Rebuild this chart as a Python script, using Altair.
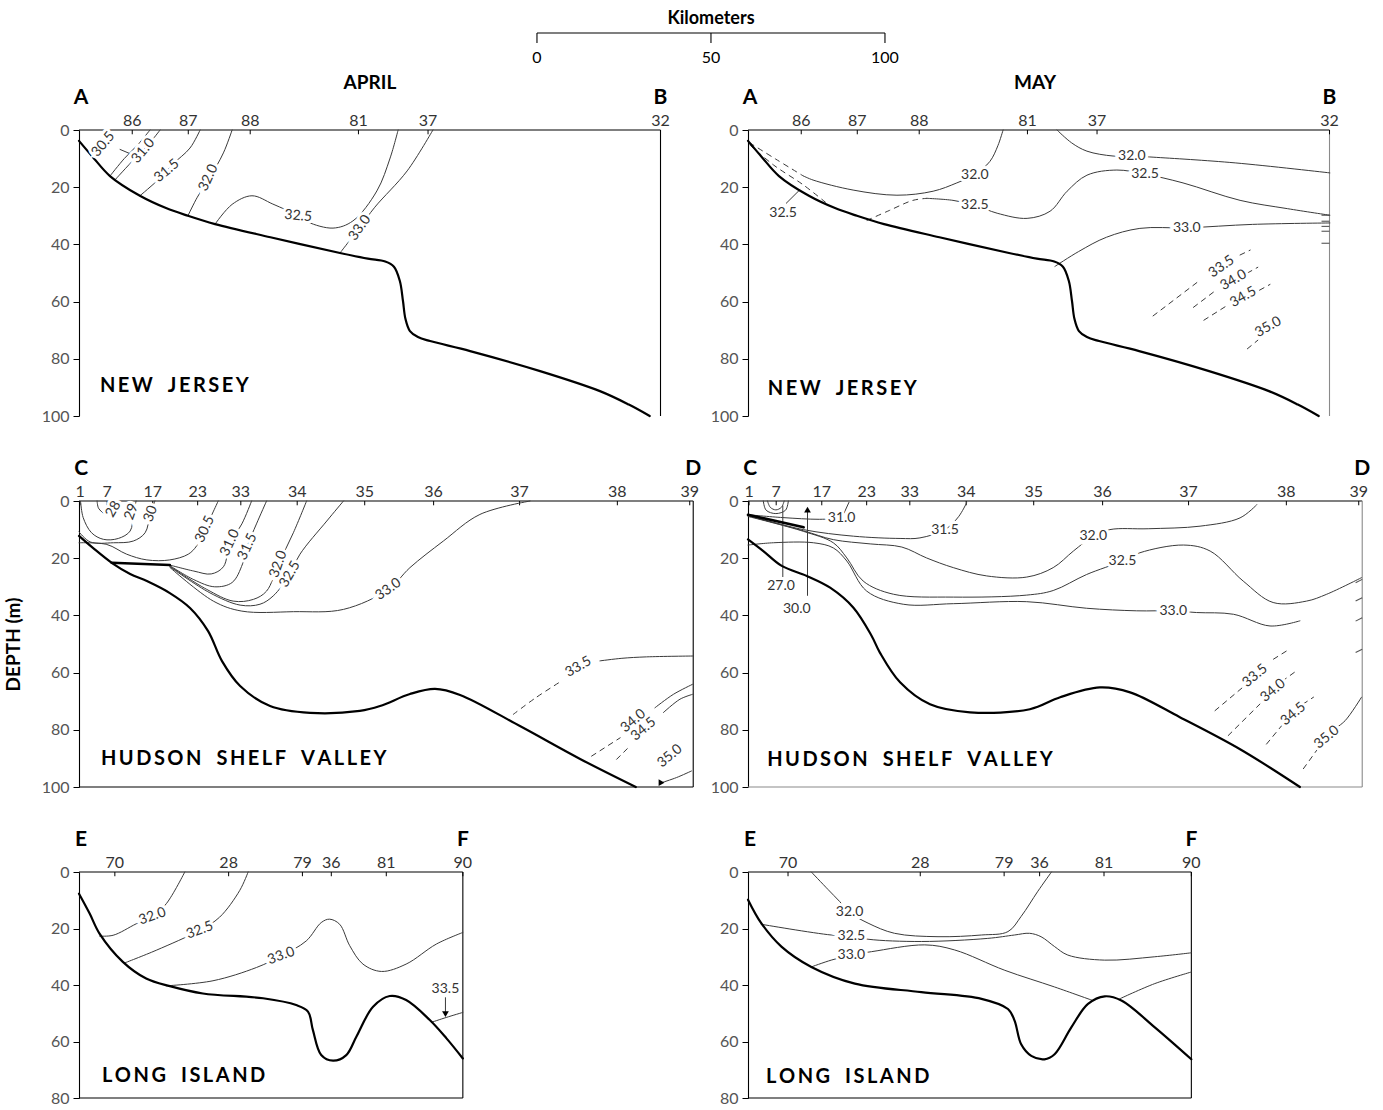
import altair as alt
import pandas as pd

FONT = "Lato"
BOLD = "Lato"
INK = "#3a3a3a"

# ---------------- stations (distance along section, km) ----------------
NJ_ST = ["86", "87", "88", "81", "37", "32"]
NJ_ST_KM = [15.3, 31.4, 49.2, 80.3, 100.3, 167.1]
HSV_ST = ["1", "7", "17", "23", "33", "34", "35", "36", "37", "38", "39"]
HSV_ST_KM = [0.3, 8.1, 21.2, 34.1, 46.5, 62.7, 82.1, 101.9, 126.6, 154.7, 175.5]
LI_ST = ["70", "28", "79", "36", "81", "90"]
LI_APR_ST_KM = [10.3, 43.0, 64.2, 72.5, 88.3, 110.3]
LI_MAY_ST_KM = [11.5, 49.5, 73.6, 83.8, 102.3, 127.4]

NJ_END = 167.1
HSV_END = 176.5
LI_APR_END = 110.3
LI_MAY_END = 127.4
KM_TICKS = [0, 50, 100]

# ---------------- bottom profiles (km, depth m) ----------------
NJ_BOTTOM = [(0, 3.8), (4, 9.5), (8.9, 16.1), (17.5, 23.0), (25, 27.3), (31.3, 30.0), (39.1, 32.9),
             (55, 37.5), (75, 43.0), (83, 45.0), (88, 46.0), (90.5, 47.8), (92.2, 52.8), (93.1, 59.8),
             (93.8, 66.0), (95.1, 70.3), (97.4, 72.4), (100.9, 73.8), (112.4, 77.3), (132.5, 84.3),
             (149.7, 91.3), (158, 96.0), (164, 100.0)]
HSV_APR_BOTTOM = [(0, 12.2), (4, 16.4), (9.5, 21.7), (14.7, 25.5), (19.5, 28), (26.1, 32.2), (31.9, 37.4),
                  (37.1, 45.5), (41.1, 56), (46.3, 64.7), (54.9, 71.7), (66.4, 74.1), (80.7, 73.4),
                  (86.5, 71.7), (95.1, 67.5), (102.3, 65.7), (109.5, 67.8), (126.7, 78.7), (144, 90.2),
                  (160, 100)]
HSV_MAY_BOTTOM = [(0, 13.4), (4.4, 17.5), (9.7, 22.7), (16.9, 26.2), (23.6, 30.3), (30.3, 37.3),
                  (35.5, 47.1), (37.9, 53), (43.7, 63.4), (52.3, 71.1), (63.8, 73.9), (81, 72.8),
                  (89.7, 68.6), (101.1, 65.2), (109.8, 66.9), (124.1, 75.6), (141.4, 86.8), (158.6, 100)]
LI_APR_BOTTOM = [(0, 7.7), (3.1, 14.8), (5.9, 21.8), (12.6, 31.8), (19.3, 37.7), (26.1, 40.4), (35.6, 43),
                 (52.9, 44.7), (62.4, 47.1), (65.8, 49.4), (67.2, 55.9), (69.6, 64.8), (73, 66.8),
                 (76.8, 64.8), (79.7, 58.3), (84.5, 47.7), (89.3, 43.9), (94, 45.3), (100.8, 52.4),
                 (105.6, 58.9), (110.3, 66)]
LI_MAY_BOTTOM = [(0, 9.8), (3.8, 18.1), (9.6, 26.4), (18.2, 33.6), (30.7, 39.5), (49.8, 42.5), (67.1, 44.9),
                 (74.7, 48.5), (76.6, 52.6), (78.5, 61), (81.4, 65.1), (85.2, 66.3), (88.1, 64.5),
                 (92.9, 55), (97.7, 46.7), (102.5, 44), (107.3, 45.5), (116.9, 55), (127.4, 66.3)]

# ---------------- salinity isolines: April, New Jersey ----------------
APR_NJ_305 = [(20.4, 0), (17, 5), (13, 10), (8.9, 16.1)]
APR_NJ_310 = [(23.3, 0), (20, 5), (16, 10), (10.3, 17.5)]
APR_NJ_315 = [(34.8, 0), (31.9, 6.3), (27, 11.9), (23.3, 16.8), (17.5, 23.0)]
APR_NJ_320 = [(44, 0), (41.5, 8), (37.5, 16.8), (34, 23.5), (31.3, 30.0)]
APR_NJ_325 = [(39.1, 32.9), (44, 26), (49.7, 23), (55.7, 25.9), (63, 30), (65.8, 32.2), (73, 34.3),
              (78.7, 31.8), (85.6, 21.3), (89.4, 9.8), (91.7, 0)]
APR_NJ_330 = [(75, 43), (80.7, 34), (85, 27), (94.3, 14.3), (101.7, 0)]
APR_NJ_PTR = [(11.8, 6.8), (15.1, 8.5)]
APR_NJ_LABELS = [("30.5", 7.0, 5.0, 310), ("31.0", 18.5, 7.3, 310), ("31.5", 25.2, 14.3, 320),
                 ("32.0", 37.2, 16.7, 295), ("32.5", 63.0, 30.1, 5), ("33.0", 80.7, 34.2, 305)]

# ---------------- May, New Jersey ----------------
MAY_NJ_320A = [(0.5, 4.5), (8, 10.2), (15.8, 16)]
MAY_NJ_BOTD = [(0.5, 5.2), (7.3, 12.2), (15.9, 19.2), (22.6, 25.6)]
MAY_NJ_320 = [(15.8, 16), (18.7, 17.5), (30.2, 21), (42.8, 22.8), (53.2, 21.4), (60, 18.5), (65.2, 15.5),
              (69.5, 11), (71.8, 5.5), (73.3, 0)]
MAY_NJ_325A = [(34.2, 31.6), (40.5, 28.2), (47.4, 24.6), (51.4, 23.9)]
MAY_NJ_325 = [(51.4, 23.9), (58.9, 24.6), (65.2, 26.3), (71.6, 29.1), (80.2, 30.9), (86.8, 28.4),
              (91.7, 21.4), (97.4, 15.8), (106, 14), (114, 15.4), (125, 18.5), (141.4, 24.6), (155, 27.5),
              (167.2, 29.8)]
MAY_NJ_320B = [(88.8, 0), (93, 4.5), (97.4, 7.4), (104.9, 9.1), (110.3, 9.1), (116.4, 9.5), (140, 11.5),
               (167.2, 15)]
MAY_NJ_330 = [(88.2, 47.7), (95, 42.5), (103, 37.5), (112.6, 34.4), (126.1, 34.2), (145, 33), (167.2, 32.5)]
MAY_NJ_PTR = [(11, 25.6), (14.9, 20.9)]
MAY_NJ_335 = [[(116.4, 65), (129.9, 52.5)], [(141.4, 43.7), (144.3, 42)]]
MAY_NJ_340 = [[(128, 62), (134.5, 56)], [(143.5, 50), (146.5, 48)]]
MAY_NJ_345 = [[(131, 66.5), (137.5, 61.5)], [(147, 56), (150, 54)]]
MAY_NJ_350 = [[(143.5, 76.5), (146.5, 73.5)]]
MAY_NJ_HATCH = [29.8, 31.9, 33.7, 35.4, 39.6]
MAY_NJ_LABELS = [("32.0", 65.2, 15.8, 0), ("32.5", 10.1, 29.1, 0), ("32.5", 65.2, 26.3, 0),
                 ("32.0", 110.3, 9.1, 0), ("32.5", 114.1, 15.4, 0), ("33.0", 126.1, 34.2, 0),
                 ("33.5", 136.1, 47.8, 325), ("34.0", 139.5, 52.5, 330), ("34.5", 142.3, 58.4, 330),
                 ("35.0", 149.5, 68.9, 330)]

# ---------------- April, Hudson Shelf Valley ----------------
APR_HSV_28 = [(5.2, 0), (5.6, 2.5), (7.2, 4.5)]
APR_HSV_29 = [(0.5, 0.6), (1.2, 5.8), (3.6, 11.1), (7, 13.4), (11.3, 13.1), (14.7, 10.5), (15.6, 5), (16.4, 0)]
APR_HSV_30 = [(0, 10.8), (3.2, 14.3), (9.9, 14.6), (15.6, 14), (19, 11.1), (20.4, 5), (21.8, 0)]
APR_HSV_305 = [(0, 14.6), (8, 15.2), (13.7, 18.6), (19.5, 20.6), (26.1, 20.6), (31.4, 18.6), (33.8, 15.7),
               (36.2, 9.9), (40, 0)]
APR_HSV_SHELF = [(9.4, 21.6), (26.1, 22.4)]
APR_HSV_310 = [(26.1, 22.4), (33, 24.5), (38, 25.5), (41.5, 23), (43.4, 14.6), (46.8, 8), (49.6, 0)]
APR_HSV_315 = [(26.1, 22.6), (33, 27.5), (39, 30), (44, 28.5), (47, 22), (48.4, 15.7), (51, 8), (53.9, 0)]
APR_HSV_320 = [(26.1, 22.8), (36.7, 30.9), (44.3, 35), (50.1, 34.4), (53.9, 31.5), (57.3, 22.1), (61.6, 11.1),
               (65.4, 0)]
APR_HSV_325 = [(26.1, 23), (37.6, 32.1), (46.3, 36.4), (52, 36.1), (55.8, 33.2), (60.6, 25.6), (63.5, 18.6),
               (71.2, 7), (76, 0)]
APR_HSV_330 = [(26.1, 23.2), (38.6, 35), (46.8, 38.5), (61.6, 38.7), (76, 37.9), (88.9, 30.9), (95.1, 23.3),
               (104.7, 14), (115.2, 4.7), (129.6, 0)]
APR_HSV_335D = [(124.8, 74.6), (131, 69), (138.7, 62.9)]
APR_HSV_335 = [(149.7, 55.9), (156, 55), (163.1, 54.5), (176.5, 54.2)]
APR_HSV_340D = [(147.3, 89.2), (155.5, 82.8)]
APR_HSV_340 = [(165.5, 72.3), (170.8, 67.6), (176.3, 64.1)]
APR_HSV_345D = [(154.5, 90.3), (157.8, 86.3)]
APR_HSV_345 = [(167.9, 74), (172.7, 69.3), (176.3, 67.6)]
APR_HSV_350 = [(167.4, 98.5), (171.7, 96.7), (176, 94.4)]
APR_HSV_LABELS = [("28", 9.9, 2.9, 300), ("29", 15.1, 3.8, 290), ("30", 20.6, 4.5, 290),
                  ("30.5", 36.2, 9.9, 295), ("31.0", 43.4, 14.6, 295), ("31.5", 48.4, 16.0, 295),
                  ("32.0", 57.3, 22.1, 290), ("32.5", 60.6, 25.6, 300), ("33.0", 88.9, 30.9, 325),
                  ("33.5", 143.5, 58.0, 330), ("34.0", 159.3, 76.9, 320), ("34.5", 162.2, 79.8, 320),
                  ("35.0", 169.8, 89.2, 320)]

# ---------------- May, Hudson Shelf Valley ----------------
MAY_HSV_WEDGE = [(0, 4.8), (16, 9.2)]
MAY_HSV_ARC1 = [(5.6, 0), (6.4, 2.2), (8, 3.1), (9.6, 2.2), (10.4, 0)]
MAY_HSV_ARC2 = [(4.4, 0), (5.2, 3.2), (8, 4.4), (10.8, 3.2), (11.6, 0)]
MAY_HSV_310 = [(0, 4.8), (10, 5.8), (20.5, 6.4), (26.9, 6.0)]
MAY_HSV_310B = [(27.6, 4.2), (29, 0.5)]
MAY_HSV_315 = [(0, 5), (15.9, 10), (30.3, 12.3), (43.7, 13.1), (49.4, 12.9), (56.6, 10), (60.5, 5.5),
               (62.8, 0.7)]
MAY_HSV_320 = [(0, 5.2), (15.9, 10.4), (24.5, 13.5), (35.1, 15), (44.2, 16.1), (51.3, 19.9), (59, 23.3),
               (68.6, 26.2), (80.1, 26.6), (87.7, 23.3), (93.5, 17.5), (99.2, 12.3), (104, 10), (115, 9.7),
               (129.9, 8.8), (141.4, 5.9), (146.2, 1.3)]
MAY_HSV_325 = [(0, 5.4), (15.9, 10.6), (24.5, 14.6), (28.4, 19.9), (33.1, 28), (41.8, 32.6), (59, 33.6),
               (80.1, 32.9), (87.7, 31.3), (97.3, 25.7), (107.6, 21), (112.6, 18.1), (125.1, 15.4),
               (132.8, 17.5), (142.3, 28), (150.9, 35.5), (160.5, 35), (166.3, 32.6), (176.3, 26.8)]
MAY_HSV_330 = [(0, 15.4), (7.3, 14.6), (18.8, 14.6), (24.5, 16.4), (28.4, 21), (34.1, 31.5), (44.6, 36.1),
               (59, 35.9), (80.1, 35.2), (97.3, 37.5), (111.7, 38.4), (122.2, 38.4), (128.9, 39),
               (139.5, 39.6), (150, 43.7), (158.6, 41.9)]
MAY_HSV_A27 = [(10, 26.7), (10, 1.7)]
MAY_HSV_A30 = [(17.1, 33.0), (17.1, 2.6)]
MAY_HSV_335 = [[(134.2, 73.3), (143.3, 64)], [(151, 55.3), (154.8, 52.4)]]
MAY_HSV_340 = [[(138, 82), (147.1, 71)], [(153.5, 63), (157.7, 59.3)]]
MAY_HSV_345 = [[(149, 85), (153.8, 77.9)], [(159.5, 71), (162.5, 68.6)]]
MAY_HSV_350D = [[(159.6, 93.6), (163.4, 87.2)]]
MAY_HSV_350 = [(168.8, 79.5), (171.6, 76.8), (176.3, 68.6)]
MAY_HSV_HATCH = [27.4, 33.8, 40.8, 51.8]
MAY_HSV_LABELS = [("31.0", 26.9, 5.9, 0), ("31.5", 56.6, 10.0, 0), ("32.0", 99.2, 12.3, 0),
                  ("32.5", 107.6, 21.0, 0), ("33.0", 122.2, 38.4, 0), ("27.0", 9.5, 29.7, 0),
                  ("30.0", 14.0, 37.9, 0), ("33.5", 145.7, 61.1, 320), ("34.0", 150.9, 66.3, 320),
                  ("34.5", 156.7, 74.5, 320), ("35.0", 166.3, 82.6, 320)]

# ---------------- April, Long Island ----------------
APR_LI_320 = [(5.9, 22.7), (9.8, 22.4), (16.5, 18.3), (21.1, 15.7), (25.1, 11.2), (30.4, 0)]
APR_LI_325 = [(13.1, 32.2), (22.2, 27.7), (34.7, 20.6), (40.4, 16), (46.2, 6.5), (48.6, 0)]
APR_LI_330 = [(25.1, 40.3), (38.5, 38.5), (51, 33.8), (58.1, 29.7), (65.3, 24.4), (69.6, 17.9), (72, 16.7),
              (74.9, 18.5), (77.8, 26.1), (81.6, 32.6), (86.9, 35.2), (94, 32.6), (102.7, 25.5), (110.3, 21.4)]
APR_LI_335 = [(101.3, 53.2), (105.5, 51.5), (110.3, 49.7)]
APR_LI_PTR = [(105.3, 44.5), (105.3, 50.0)]
APR_LI_LABELS = [("32.0", 21.1, 15.7, 340), ("32.5", 34.7, 20.6, 340), ("33.0", 58.1, 29.7, 340),
                 ("33.5", 105.3, 41.3, 0)]

# ---------------- May, Long Island ----------------
MAY_LI_320 = [(18.2, 0), (23, 6.2), (26.3, 10.4), (29.2, 14.3), (34.5, 18.1), (42.1, 21.7), (54.6, 22.9),
              (67.1, 22.3), (74.7, 21.1), (78.5, 15.7), (83.3, 6.8), (87.2, 0)]
MAY_LI_325 = [(3.8, 18.5), (23.9, 22.3), (29.7, 22.6), (34.5, 23.8), (49.8, 24.6), (68.9, 23.5), (76.6, 22.3),
              (80.9, 21.7), (84.2, 22.9), (88.1, 26.4), (91.9, 29.4), (102.5, 31.2), (116.9, 30), (127.4, 28.6)]
MAY_LI_330A = [(18.2, 33.6), (23.9, 31.2), (29.7, 29.4), (35.5, 28.2), (50.8, 25.8), (59.4, 27.6),
               (73.8, 34.8), (88.1, 40.7), (99.1, 45.5)]
MAY_LI_330B = [(106.8, 44.9), (116.9, 39.5), (127.4, 35.4)]
MAY_LI_LABELS = [("32.0", 29.2, 14.3, 0), ("32.5", 29.7, 22.6, 0), ("33.0", 29.7, 29.4, 0)]


def to_df(curves):
    rows = []
    for c, pts in enumerate(curves):
        for i, (x, d) in enumerate(pts):
            rows.append({"c": c, "i": i, "x": x, "d": d})
    return pd.DataFrame(rows, columns=["c", "i", "x", "d"])


def y_axis(dmax, title=None):
    kw = dict(values=list(range(0, dmax + 1, 20)), grid=False, domain=True, domainColor="black",
              domainWidth=1.1, ticks=True, tickColor="black", tickSize=6, tickWidth=1,
              labelFont=FONT, labelFontSize=16, labelColor="#555555", labelPadding=4,
              labelFlush=False)
    if title:
        kw.update(title=title, titleFont=BOLD, titleFontSize=19, titleFontWeight="bold",
                  titleColor="black", titlePadding=18)
    else:
        kw["title"] = None
    return alt.Axis(**kw)


def panel(xmax, dmax, width, height, end, st_names, st_km, letters, name, name_pos,
          bottom, solid, dashed=(), thick=(), labels=(), frame_extra=(), arrows=(),
          texts=(), ytitle=None, faint=False, bottom_frame=True):
    xs = alt.X("x:Q", scale=alt.Scale(domain=[0, xmax], nice=False, zero=False), axis=None)
    ys = alt.Y("d:Q", scale=alt.Scale(domain=[0, dmax], reverse=True, nice=False, zero=False),
               axis=y_axis(dmax, ytitle))
    layers = []
    fcol = "#8a8a8a" if faint else "black"
    frame = [(0, 0, end, 0, "black"), (end, 0, end, dmax, fcol)]
    if bottom_frame:
        frame.append((0, dmax, end, dmax, fcol))
    frame += list(frame_extra)
    fr = pd.DataFrame(frame, columns=["x", "d", "x2", "d2", "col"])
    layers.append(alt.Chart(fr).mark_rule(strokeWidth=1.1).encode(
        x=xs, y=ys, x2="x2:Q", y2="d2:Q", color=alt.Color("col:N", scale=None)))
    st = pd.DataFrame({"x": st_km, "d": [0.0] * len(st_km), "d2": [1.5] * len(st_km), "t": st_names})
    layers.append(alt.Chart(st).mark_rule(color="black", strokeWidth=1).encode(x=xs, y=ys, y2="d2:Q"))

    def lines(curves, width_, color=INK, dash=None):
        if not curves:
            return
        kw = dict(color=color, strokeWidth=width_, interpolate="catmull-rom", strokeCap="round")
        if dash:
            kw["strokeDash"] = dash
        layers.append(alt.Chart(to_df(curves)).mark_line(**kw).encode(
            x=xs, y=ys, detail="c:N", order="i:Q"))

    lines(list(solid), 1.0)
    lines(list(dashed), 1.0, dash=[5, 5])
    lines(list(thick), 2.6, color="black")
    lines([bottom], 2.2, color="black")

    if arrows:
        ar = pd.DataFrame(list(arrows), columns=["x", "d", "s"])
        layers.append(alt.Chart(ar).mark_point(filled=True, size=45, color="black", opacity=1).encode(
            x=xs, y=ys, shape=alt.Shape("s:N", scale=None)))

    if labels:
        lb = pd.DataFrame(list(labels), columns=["t", "x", "d", "a"])
        layers.append(alt.Chart(lb).mark_text(font=FONT, fontSize=14, color="white", stroke="white",
                                              strokeWidth=6).encode(
            x=xs, y=ys, text="t:N", angle=alt.Angle("a:Q", scale=None)))
        layers.append(alt.Chart(lb).mark_text(font=FONT, fontSize=14, color="#333333").encode(
            x=xs, y=ys, text="t:N", angle=alt.Angle("a:Q", scale=None)))

    layers.append(alt.Chart(st).mark_text(font=FONT, fontSize=16, color="#333333", baseline="alphabetic",
                                          dy=-4).encode(x=xs, y=ys, text="t:N"))
    lt = pd.DataFrame({"x": [0.6, end], "d": [0.0, 0.0], "t": letters})
    layers.append(alt.Chart(lt).mark_text(font=BOLD, fontSize=21, fontWeight="bold", color="black",
                                          baseline="alphabetic", dy=-26).encode(x=xs, y=ys, text="t:N"))
    nm = pd.DataFrame({"x": [name_pos[0]], "d": [name_pos[1]], "t": [name]})
    layers.append(alt.Chart(nm).mark_text(font=BOLD, fontSize=20, fontWeight="bold", color="black",
                                          align="left", baseline="middle").encode(x=xs, y=ys, text="t:N"))
    for (df, props) in texts:
        layers.append(alt.Chart(df).mark_text(**props).encode(x=xs, y=ys, text="t:N"))
    return alt.layer(*layers).properties(width=width, height=height)


def spaced(s):
    # widen letter spacing with thin spaces, and word gaps with an en space (not collapsed in SVG)
    words = s.split(" ")
    return "\u2009\u2002\u2009".join("\u2009".join(w) for w in words)


LW, RW = 614, 615
LX, RX = LW / 3.48, RW / 3.48

# scale bar (drawn in first panel, in km units)
KM0 = 131.6
bar_rules = [(KM0 + KM_TICKS[0], -33.9, KM0 + KM_TICKS[-1], -33.9, "black")] + \
            [(KM0 + k, -33.9, KM0 + k, -30.4, "black") for k in KM_TICKS]
bar_lbl = pd.DataFrame({"x": [KM0 + k for k in KM_TICKS], "d": [0.0] * 3, "t": [str(k) for k in KM_TICKS]})
km_title = pd.DataFrame({"x": [KM0 + 50], "d": [0.0], "t": ["Kilometers"]})
apr_title = pd.DataFrame({"x": [83.6], "d": [0.0], "t": ["APRIL"]})
may_title = pd.DataFrame({"x": [82.5], "d": [0.0], "t": ["MAY"]})
title_props = dict(font=BOLD, fontSize=19, fontWeight="bold", color="black", baseline="alphabetic", dy=-41)

p1 = panel(LX, 100, LW, 286, NJ_END, NJ_ST, NJ_ST_KM, ["A", "B"], spaced("NEW JERSEY"), (6.0, 89.5),
           NJ_BOTTOM,
           [APR_NJ_305, APR_NJ_310, APR_NJ_315, APR_NJ_320, APR_NJ_325, APR_NJ_330, APR_NJ_PTR],
           labels=APR_NJ_LABELS, frame_extra=bar_rules, bottom_frame=False,
           texts=[(bar_lbl, dict(font=FONT, fontSize=16, color="black", baseline="alphabetic", dy=-67)),
                  (km_title, dict(font=BOLD, fontSize=18, fontWeight="bold", color="black",
                                  baseline="alphabetic", dy=-106)),
                  (apr_title, title_props)])

p2 = panel(RX, 100, RW, 286, NJ_END, NJ_ST, NJ_ST_KM, ["A", "B"], spaced("NEW JERSEY"), (5.7, 90.5),
           NJ_BOTTOM,
           [MAY_NJ_320, MAY_NJ_325, MAY_NJ_320B, MAY_NJ_330, MAY_NJ_PTR],
           dashed=[MAY_NJ_320A, MAY_NJ_BOTD, MAY_NJ_325A] + MAY_NJ_335 + MAY_NJ_340 + MAY_NJ_345 + MAY_NJ_350,
           labels=MAY_NJ_LABELS, faint=True, bottom_frame=False,
           frame_extra=[(164.8, h, NJ_END, h, "#555555") for h in MAY_NJ_HATCH],
           texts=[(may_title, title_props)])

p3 = panel(LX, 100, LW, 286, HSV_END, HSV_ST, HSV_ST_KM, ["C", "D"], spaced("HUDSON SHELF VALLEY"),
           (6.3, 90.2), HSV_APR_BOTTOM,
           [APR_HSV_28, APR_HSV_29, APR_HSV_30, APR_HSV_305, APR_HSV_310, APR_HSV_315, APR_HSV_320,
            APR_HSV_325, APR_HSV_330, APR_HSV_335, APR_HSV_340, APR_HSV_345, APR_HSV_350],
           dashed=[APR_HSV_335D, APR_HSV_340D, APR_HSV_345D], thick=[APR_HSV_SHELF],
           labels=APR_HSV_LABELS, arrows=[(167.4, 98.5, "triangle-right")],
           ytitle="DEPTH    (m)")

p4 = panel(RX, 100, RW, 286, HSV_END, HSV_ST, HSV_ST_KM, ["C", "D"], spaced("HUDSON SHELF VALLEY"),
           (5.5, 90.6), HSV_MAY_BOTTOM,
           [MAY_HSV_ARC1, MAY_HSV_ARC2, MAY_HSV_310, MAY_HSV_310B, MAY_HSV_315, MAY_HSV_320, MAY_HSV_325,
            MAY_HSV_330, MAY_HSV_A27, MAY_HSV_A30, MAY_HSV_350],
           dashed=MAY_HSV_335 + MAY_HSV_340 + MAY_HSV_345 + MAY_HSV_350D, thick=[MAY_HSV_WEDGE],
           labels=MAY_HSV_LABELS, faint=True,
           frame_extra=[(174.6, h + 1.2, HSV_END, h, "#555555") for h in MAY_HSV_HATCH],
           arrows=[(17.1, 3.0, "triangle-up")])

p5 = panel(LX, 80, LW, 226, LI_APR_END, LI_ST, LI_APR_ST_KM, ["E", "F"], spaced("LONG ISLAND"),
           (6.6, 72.2), LI_APR_BOTTOM,
           [APR_LI_320, APR_LI_325, APR_LI_330, APR_LI_335, APR_LI_PTR],
           labels=APR_LI_LABELS, arrows=[(105.3, 50.3, "triangle-down")])

p6 = panel(RX, 80, RW, 226, LI_MAY_END, LI_ST, LI_MAY_ST_KM, ["E", "F"], spaced("LONG ISLAND"),
           (5.2, 72.5), LI_MAY_BOTTOM,
           [MAY_LI_320, MAY_LI_325, MAY_LI_330A, MAY_LI_330B],
           labels=MAY_LI_LABELS)

chart = alt.concat(p1, p2, p3, p4, p5, p6, columns=2, spacing={"row": 85, "column": 55},
                   bounds="flush").configure_view(stroke=None).properties(
    padding={"left": 4, "top": 10, "right": 5, "bottom": 5}, background="white")

chart.save("out.html", embed_options={"renderer": "svg", "actions": False})
